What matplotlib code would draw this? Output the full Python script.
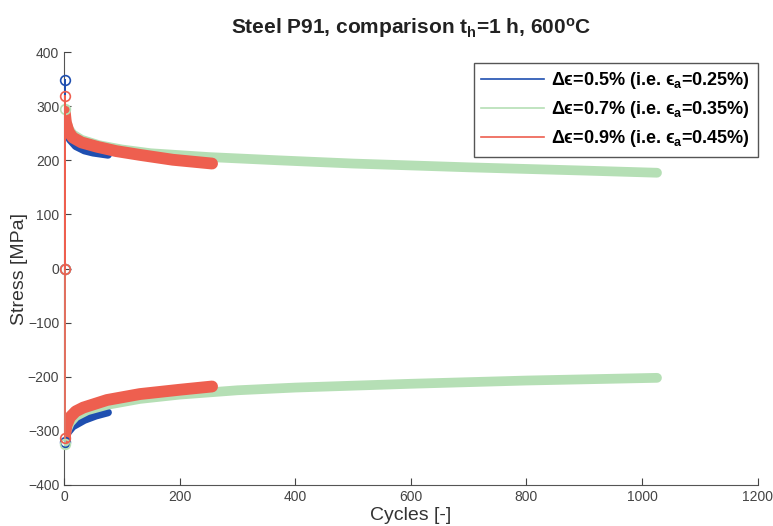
import matplotlib
matplotlib.use("Agg")
from matplotlib import pyplot as plt

plt.rcParams['font.family'] = ['Liberation Sans', 'DejaVu Sans']
plt.rcParams['mathtext.fontset'] = 'custom'
plt.rcParams['mathtext.rm'] = 'Liberation Sans'
plt.rcParams['mathtext.it'] = 'Liberation Sans:italic'
plt.rcParams['mathtext.bf'] = 'Liberation Sans:bold'

# Dados (ciclos, tensão máxima / mínima em MPa)
labels = ['Δϵ=0.5% (i.e. ϵ$_\\mathbf{a}$=0.25%)',
          'Δϵ=0.7% (i.e. ϵ$_\\mathbf{a}$=0.35%)',
          'Δϵ=0.9% (i.e. ϵ$_\\mathbf{a}$=0.45%)']
cores = ['#1f4fb0', '#b5dfb5', '#ee5f4f']

# primeiro ciclo: 0 -> pico -> vale
inicio_n = [1, 1, 1]
inicio_05 = [0, 348, -320]
inicio_07 = [0, 295, -325]
inicio_09 = [0, 318, -313]

sup_n_05 = [1, 3, 6, 10, 20, 35, 50, 76]
sup_s_05 = [275, 258, 246, 238, 226, 218, 214, 210]
inf_n_05 = [1, 5, 15, 35, 55, 76]
inf_s_05 = [-320, -305, -292, -280, -272, -266]

sup_n_07 = [1, 3, 8, 15, 30, 60, 100, 150, 250, 370, 500, 700, 900, 1026]
sup_s_07 = [295, 275, 258, 248, 238, 228, 220, 213, 206, 200, 194, 187, 181, 177]
inf_n_07 = [1, 4, 10, 20, 40, 74, 131, 200, 300, 400, 600, 800, 1026]
inf_s_07 = [-325, -300, -285, -273, -262, -252, -241, -233, -225, -220, -213, -207, -202]

sup_n_09 = [1, 3, 8, 15, 30, 57, 90, 131, 188, 256]
sup_s_09 = [290, 270, 252, 242, 233, 225, 217, 210, 201, 194]
inf_n_09 = [1, 4, 10, 20, 33, 74, 131, 200, 256]
inf_s_09 = [-313, -290, -275, -264, -257, -243, -232, -224, -218]

series = [
    (inicio_05, sup_n_05, sup_s_05, inf_n_05, inf_s_05, 5.5),
    (inicio_07, sup_n_07, sup_s_07, inf_n_07, inf_s_07, 7),
    (inicio_09, sup_n_09, sup_s_09, inf_n_09, inf_s_09, 8.5),
]

fig = plt.figure(figsize=(7.73, 5.26), dpi=100)
ax = fig.add_axes([0.083, 0.078, 0.897, 0.823])

for (ini, sn, ss, inn, iss, lw), cor, lab in zip(series, cores, labels):
    ax.plot(sn, ss, color=cor, lw=lw, solid_capstyle='round')
    ax.plot(inn, iss, color=cor, lw=lw, solid_capstyle='round')
    ax.plot(inicio_n, ini, color=cor, lw=1.2, marker='o', mfc='none',
            ms=7, mew=1.2, label=lab, zorder=4, clip_on=False)

ax.set_xlim(0, 1200)
ax.set_ylim(-400, 400)
ax.set_xticks(range(0, 1201, 200))
ax.set_yticks(range(-400, 401, 100))
ax.tick_params(direction='in', labelsize=10, colors='#444444', length=5)
for s in ['top', 'right']:
    ax.spines[s].set_visible(False)
for s in ['left', 'bottom']:
    ax.spines[s].set_color('#555555')
    ax.spines[s].set_zorder(1)

ax.set_xlabel('Cycles [-]', fontsize=14, color='#333333', labelpad=2)
ax.set_ylabel('Stress [MPa]', fontsize=14, color='#333333', labelpad=0)
ax.set_title(r'Steel P91, comparison t$_\mathbf{h}$=1 h, 600$^\mathbf{o}$C',
             fontsize=15, fontweight='bold', color='#222222', pad=13)

leg = ax.legend(loc='upper right', bbox_to_anchor=(1.0, 0.975),
                borderaxespad=0, fancybox=False, framealpha=1,
                edgecolor='#555555', handlelength=3.5, handletextpad=0.4,
                labelspacing=0.45, prop={'weight': 'bold', 'size': 13})
for h in leg.get_lines():
    h.set_marker('')
    h.set_linewidth(1.2)

plt.savefig('out.png', dpi=100)
